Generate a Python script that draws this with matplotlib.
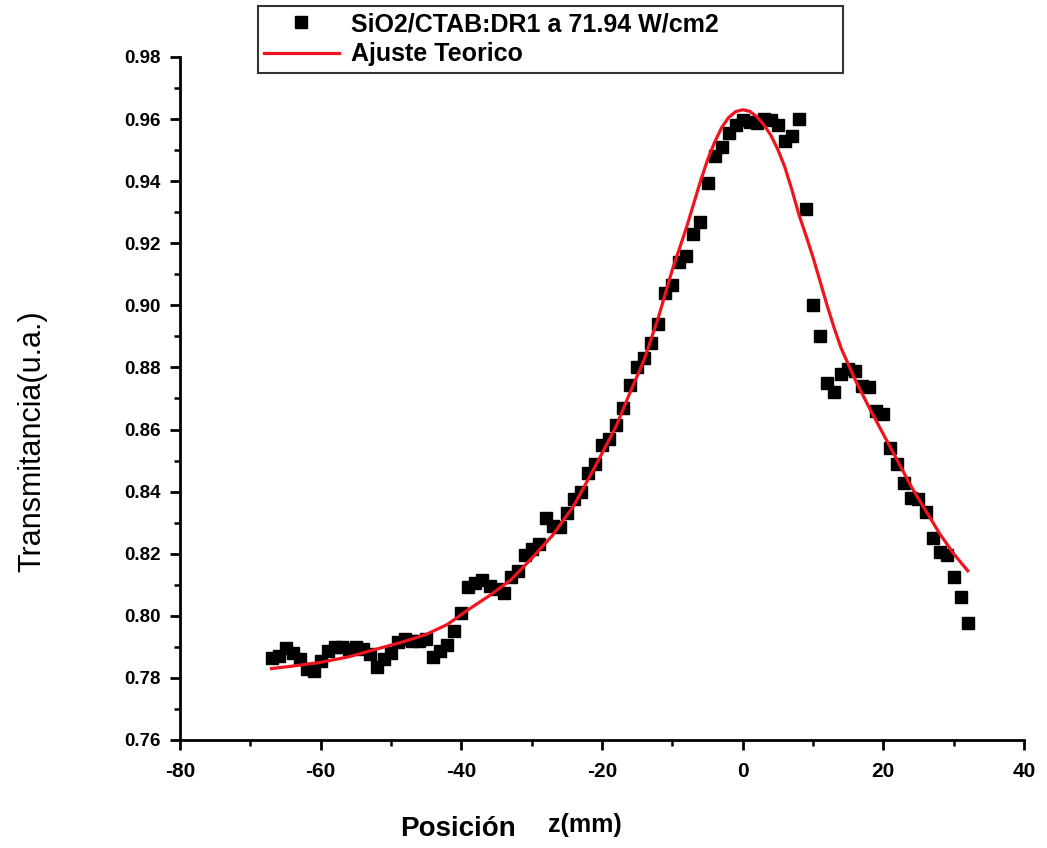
import matplotlib
matplotlib.use("Agg")
import matplotlib.pyplot as plt
from matplotlib.ticker import MultipleLocator, FormatStrFormatter

plt.rcParams['font.family'] = ['Liberation Sans', 'DejaVu Sans']
plt.rcParams['axes.unicode_minus'] = False

z_mm = [-67, -66, -65, -64, -63, -62, -61, -60, -59, -58,
        -57, -56, -55, -54, -53, -52, -51, -50, -49, -48,
        -47, -46, -45, -44, -43, -42, -41, -40, -39, -38,
        -37, -36, -35, -34, -33, -32, -31, -30, -29, -28,
        -27, -26, -25, -24, -23, -22, -21, -20, -19, -18,
        -17, -16, -15, -14, -13, -12, -11, -10, -9, -8,
        -7, -6, -5, -4, -3, -2, -1, 0, 1, 2,
        3, 4, 5, 6, 7, 8, 9, 10, 11, 12,
        13, 14, 15, 16, 17, 18, 19, 20, 21, 22,
        23, 24, 25, 26, 27, 28, 29, 30, 31, 32]
transmitancia = [0.7865, 0.7872, 0.7895, 0.7880, 0.7862, 0.7828, 0.7822, 0.7855, 0.7885, 0.7898,
                 0.7898, 0.7893, 0.7898, 0.7892, 0.7878, 0.7835, 0.7862, 0.7880, 0.7915, 0.7925,
                 0.7920, 0.7918, 0.7925, 0.7868, 0.7885, 0.7905, 0.7950, 0.8010, 0.8092, 0.8105,
                 0.8115, 0.8095, 0.8085, 0.8075, 0.8125, 0.8145, 0.8195, 0.8215, 0.8230, 0.8315,
                 0.8290, 0.8285, 0.8330, 0.8375, 0.8400, 0.8460, 0.8490, 0.8550, 0.8570, 0.8615,
                 0.8670, 0.8745, 0.8800, 0.8830, 0.8880, 0.8940, 0.9040, 0.9065, 0.9140, 0.9160,
                 0.9230, 0.9270, 0.9395, 0.9480, 0.9510, 0.9555, 0.9580, 0.9598, 0.9590, 0.9588,
                 0.9600, 0.9598, 0.9580, 0.9530, 0.9545, 0.9600, 0.9310, 0.9000, 0.8900, 0.8750,
                 0.8720, 0.8780, 0.8795, 0.8790, 0.8740, 0.8737, 0.8660, 0.8650, 0.8540, 0.8490,
                 0.8428, 0.8380, 0.8375, 0.8334, 0.8250, 0.8205, 0.8196, 0.8125, 0.8060, 0.7977]

# Ajuste teorico (curva roja)
fit_z = [-67, -64, -60, -56, -52, -48, -45, -42, -39, -36,
         -33, -30, -27, -24, -21, -18, -16, -14, -12, -10,
         -8, -7, -6, -5, -4, -3, -2, -1, 0, 1,
         2, 3, 4, 5, 6, 7, 8, 9, 10, 11,
         12, 13, 14, 16, 18, 20, 22, 24, 26, 28, 30, 32]
fit_t = [0.7830, 0.7838, 0.7850, 0.7868, 0.7893, 0.7918, 0.7940, 0.7972, 0.8020, 0.8065,
         0.8115, 0.8185, 0.8260, 0.8355, 0.8480, 0.8610, 0.8720, 0.8825, 0.8960, 0.9115,
         0.9250, 0.9325, 0.9400, 0.9468, 0.9525, 0.9572, 0.9605, 0.9624, 0.9630, 0.9625,
         0.9608, 0.9582, 0.9548, 0.9502, 0.9445, 0.9372, 0.9292, 0.9225, 0.9155, 0.9078,
         0.9000, 0.8928, 0.8862, 0.8760, 0.8670, 0.8585, 0.8500, 0.8415, 0.8340, 0.8265, 0.8200, 0.8145]

label_datos = 'SiO2/CTAB:DR1 a 71.94 W/cm2'
label_ajuste = 'Ajuste Teorico'


# --------------------------- Plotting -----------------------------
fig = plt.figure(figsize=(10.47, 8.48), dpi=100)
ax = fig.add_axes([0.172, 0.1274, 0.806, 0.8054])

ax.plot(z_mm, transmitancia, linestyle='none', marker='s', markersize=8.5,
        color='black', label=label_datos)
ax.plot(fit_z, fit_t, color='#f0141e', linewidth=2.3, label=label_ajuste)

ax.set_xlim(-80, 40)
ax.set_ylim(0.76, 0.98)
ax.xaxis.set_major_locator(MultipleLocator(20))
ax.xaxis.set_minor_locator(MultipleLocator(10))
ax.yaxis.set_major_locator(MultipleLocator(0.02))
ax.yaxis.set_minor_locator(MultipleLocator(0.01))
ax.yaxis.set_major_formatter(FormatStrFormatter('%.2f'))

for side in ['top', 'right']:
    ax.spines[side].set_visible(False)
for side in ['left', 'bottom']:
    ax.spines[side].set_linewidth(2)

ax.tick_params(which='major', direction='out', length=7, width=2)
ax.tick_params(which='minor', direction='out', length=4, width=1.8)
ax.tick_params(axis='y', which='major', pad=7)
ax.tick_params(axis='x', which='major', pad=9)

for lab in ax.get_yticklabels():
    lab.set_fontsize(13.5)
    lab.set_fontweight('bold')
for lab in ax.get_xticklabels():
    lab.set_fontsize(15)
    lab.set_fontweight('bold')

fig.text(0.031, 0.48, 'Transmitancia(u.a.)', rotation=90, fontsize=22,
         ha='center', va='center')
fig.text(0.382, 0.022, 'Posición', fontsize=20, fontweight='bold',
         ha='left', va='center')
fig.text(0.523, 0.027, 'z(mm)', fontsize=18, fontweight='bold',
         ha='left', va='center')

leg = ax.legend(loc='upper left', bbox_to_anchor=(0.246, 0.886, 0.559, 0.107),
                bbox_transform=fig.transFigure, mode='expand',
                prop={'size': 18, 'weight': 'bold'}, frameon=True, fancybox=False,
                handlelength=3.0, handletextpad=0.5, borderpad=0.25,
                labelspacing=0.25, borderaxespad=0)
leg.get_frame().set_edgecolor('black')
leg.get_frame().set_linewidth(1.5)

fig.savefig('out.png', dpi=100)
